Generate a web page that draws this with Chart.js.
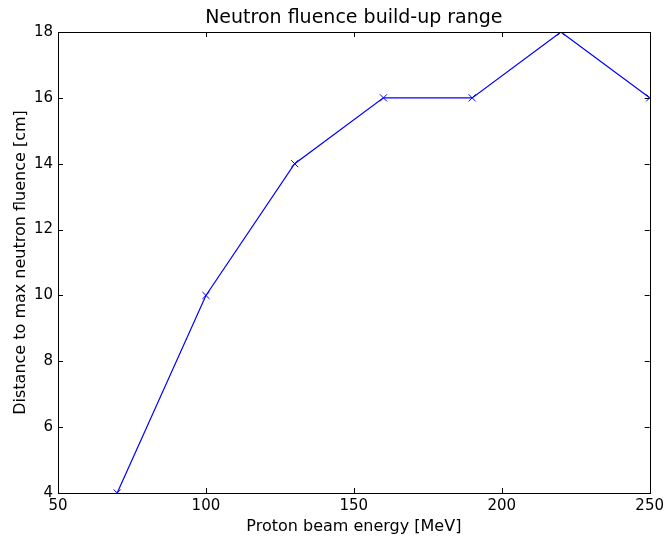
<!DOCTYPE html>
<html>
<head>
<meta charset="utf-8">
<script src="https://cdn.jsdelivr.net/npm/chart.js@4/dist/chart.umd.min.js"></script>
<style>
  html, body { margin: 0; padding: 0; background: #fff; }
  #wrap { width: 668px; height: 537px; }
</style>
</head>
<body>
<div id="wrap"><canvas id="fluenceChart"></canvas></div>
<script>
// data
const energies = [70, 100, 130, 160, 190, 220, 250];
const distances = [4, 10, 14, 16, 16, 18, 16];
const xTickValues = [50, 100, 150, 200, 250];
const yTickValues = [4, 6, 8, 10, 12, 14, 16, 18];

const FONT = 'DejaVu Sans';

// frame + inward ticks on all four sides (matplotlib classic look)
const frameTicks = {
  id: 'frameTicks',
  afterDatasetsDraw(chart) {
    const { ctx, chartArea: a, scales } = chart;
    const len = 5;
    ctx.save();
    ctx.strokeStyle = '#000';
    ctx.lineWidth = 1;
    ctx.beginPath();
    scales.x.ticks.forEach(t => {
      const px = Math.round(scales.x.getPixelForValue(t.value)) + 0.5;
      ctx.moveTo(px, a.bottom); ctx.lineTo(px, a.bottom - len);
      ctx.moveTo(px, a.top); ctx.lineTo(px, a.top + len);
    });
    scales.y.ticks.forEach(t => {
      const py = Math.round(scales.y.getPixelForValue(t.value)) + 0.5;
      ctx.moveTo(a.left, py); ctx.lineTo(a.left + len, py);
      ctx.moveTo(a.right, py); ctx.lineTo(a.right - len, py);
    });
    ctx.stroke();
    ctx.strokeRect(Math.round(a.left) + 0.5, Math.round(a.top) + 0.5,
      Math.round(a.right - a.left), Math.round(a.bottom - a.top));
    ctx.restore();
  }
};

new Chart(document.getElementById('fluenceChart'), {
  type: 'line',
  data: {
    labels: energies,
    datasets: [{
      data: energies.map((e, i) => ({ x: e, y: distances[i] })),
      borderColor: '#0000ff',
      borderWidth: 1.2,
      pointStyle: 'crossRot',
      pointRadius: 5,
      pointBorderColor: '#0000ff',
      pointBorderWidth: 1,
      pointBackgroundColor: '#0000ff',
      tension: 0,
      fill: false,
      clip: 0
    }]
  },
  options: {
    responsive: true,
    maintainAspectRatio: false,
    animation: false,
    layout: { padding: { left: 0, right: 14, top: 0, bottom: 0 } },
    plugins: {
      legend: { display: false },
      tooltip: { enabled: false },
      title: {
        display: true,
        text: 'Neutron fluence build-up range',
        color: '#000',
        fullSize: false,
        font: { family: FONT, size: 19, weight: 'normal' },
        padding: { top: 7, bottom: 2.2 }
      }
    },
    scales: {
      x: {
        type: 'linear',
        min: 50,
        max: 250,
        afterBuildTicks: s => { s.ticks = xTickValues.map(v => ({ value: v })); },
        afterFit: s => { s.height = 44; },
        grid: { display: false, drawTicks: false },
        border: { display: false },
        ticks: { color: '#000', padding: 4, maxRotation: 0, font: { family: FONT, size: 15 } },
        title: {
          display: true,
          text: 'Proton beam energy [MeV]',
          color: '#000',
          font: { family: FONT, size: 16 },
          padding: { top: 0, bottom: 1 }
        }
      },
      y: {
        type: 'linear',
        min: 4,
        max: 18,
        afterBuildTicks: s => { s.ticks = yTickValues.map(v => ({ value: v })); },
        afterFit: s => { s.width = 58; },
        grid: { display: false, drawTicks: false },
        border: { display: false },
        ticks: { color: '#000', padding: 5, font: { family: FONT, size: 15 } },
        title: {
          display: true,
          text: 'Distance to max neutron fluence [cm]',
          color: '#000',
          font: { family: FONT, size: 16 },
          padding: { top: 11, bottom: 0 }
        }
      }
    }
  },
  plugins: [frameTicks]
});
</script>
</body>
</html>
